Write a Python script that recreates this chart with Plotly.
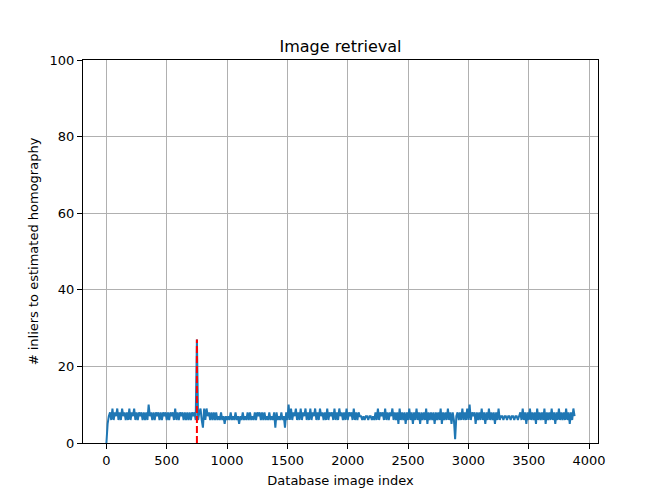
import plotly.graph_objects as go

# Sampled every 10 database indices (0 .. 3880)
step = 10
inliers = [
    0, 5, 7, 8, 6, 9, 6, 8, 7, 9,
    6, 8, 6, 9, 7, 8, 6, 8, 6, 9,
    6, 8, 7, 9, 6, 8, 6, 8, 7, 8,
    6, 8, 6, 8, 6, 10, 7, 8, 6, 8,
    6, 8, 7, 8, 6, 8, 6, 8, 7, 8,
    6, 8, 6, 8, 7, 8, 6, 9, 6, 8,
    6, 8, 7, 8, 6, 8, 6, 8, 6, 8,
    6, 8, 7, 8, 6, 27, 6, 8, 9, 6,
    4, 9, 6, 9, 7, 8, 6, 8, 6, 8,
    6, 8, 6, 7, 6, 8, 6, 7, 5, 7,
    6, 7, 6, 8, 6, 7, 6, 8, 6, 7,
    5, 7, 6, 8, 6, 7, 6, 8, 6, 8,
    6, 7, 6, 8, 6, 8, 7, 8, 6, 8,
    6, 8, 6, 7, 6, 8, 6, 7, 6, 8,
    4, 8, 6, 7, 6, 8, 6, 7, 4, 8,
    6, 10, 6, 9, 6, 8, 7, 9, 6, 8,
    6, 9, 6, 8, 7, 9, 6, 8, 6, 9,
    6, 8, 7, 9, 6, 8, 6, 9, 7, 8,
    6, 8, 6, 9, 6, 8, 7, 8, 6, 9,
    6, 8, 6, 9, 7, 8, 6, 8, 6, 9,
    6, 8, 7, 8, 6, 9, 6, 8, 6, 8,
    7, 7, 6, 7, 6, 7, 7, 6, 7, 7,
    6, 7, 6, 8, 6, 9, 6, 8, 7, 8,
    6, 9, 6, 8, 6, 8, 7, 9, 6, 8,
    6, 8, 5, 9, 6, 8, 6, 8, 5, 8,
    6, 9, 6, 8, 5, 8, 6, 9, 6, 8,
    5, 8, 6, 8, 6, 9, 5, 8, 6, 8,
    6, 8, 5, 8, 6, 8, 6, 9, 5, 8,
    6, 8, 6, 9, 6, 8, 5, 8, 6, 1,
    7, 8, 6, 8, 6, 9, 6, 8, 6, 9,
    6, 10, 6, 8, 7, 8, 5, 8, 6, 8,
    6, 9, 6, 8, 5, 8, 6, 9, 6, 8,
    6, 8, 5, 8, 6, 9, 6, 7, 7, 6,
    7, 7, 6, 7, 7, 6, 7, 7, 6, 7,
    7, 6, 7, 8, 6, 9, 6, 8, 5, 8,
    6, 9, 6, 8, 6, 8, 5, 9, 6, 8,
    6, 8, 6, 9, 5, 8, 6, 8, 6, 9,
    6, 8, 5, 8, 6, 9, 6, 8, 6, 8,
    6, 9, 6, 8, 5, 8, 6, 9, 7,
]
db_index = [i * step for i in range(len(inliers))]

match_index = 750
match_inliers = [0, 27]

x_ticks = [0, 500, 1000, 1500, 2000, 2500, 3000, 3500, 4000]
y_ticks = [0, 20, 40, 60, 80, 100]

fig = go.Figure()
fig.add_trace(go.Scatter(x=db_index, y=inliers, mode="lines",
                         line=dict(color="#1f77b4", width=2, simplify=False),
                         showlegend=False))
fig.add_trace(go.Scatter(x=[match_index, match_index], y=match_inliers, mode="lines",
                         line=dict(color="#ff0000", width=2, dash="7px,3px"),
                         showlegend=False))

font = dict(family="DejaVu Sans", size=13, color="black")
axis_common = dict(showline=True, mirror=True, linecolor="black", linewidth=1,
                   ticks="outside", ticklen=5, tickcolor="black", tickwidth=1,
                   showgrid=True, gridcolor="#b0b0b0", gridwidth=1, zeroline=False,
                   tickfont=font)
fig.update_layout(
    width=656, height=490,
    margin=dict(l=75, r=66, t=52, b=55),
    paper_bgcolor="white", plot_bgcolor="white",
    font=font,
    title=dict(text="Image retrieval", x=0.5, xref="paper", xanchor="center",
               y=1 - 44 / 490, yref="container", yanchor="bottom",
               font=dict(family="DejaVu Sans", size=16, color="black")),
    xaxis=dict(range=[-194, 4074], tickvals=x_ticks,
               title=dict(text="Database image index", font=font, standoff=9),
               **axis_common),
    yaxis=dict(range=[0, 100], tickvals=y_ticks,
               title=dict(text="# inliers to estimated homography", font=font, standoff=8),
               **axis_common),
)
fig.write_html("out.html")
